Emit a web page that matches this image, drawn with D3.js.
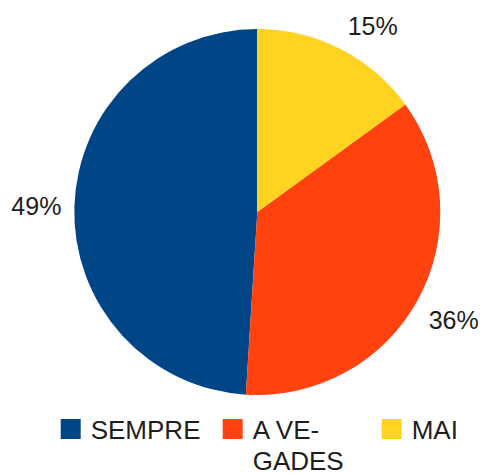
<!DOCTYPE html>
<html>
<head>
<meta charset="utf-8">
<script src="https://cdn.jsdelivr.net/npm/d3@7"></script>
<style>
  html, body { margin: 0; padding: 0; background: #fff; }
  svg { display: block; }
  text { font-family: "Liberation Sans", Arial, sans-serif; fill: #1e1e1e; }
</style>
</head>
<body>
<svg id="chart" width="483" height="473"></svg>
<script>
const categories = ["SEMPRE", "A VEGADES", "MAI"];
const values = [49, 36, 15];
const valueLabels = ["49%", "36%", "15%"];
const legendLines = [["SEMPRE"], ["A VE-", "GADES"], ["MAI"]];
const colors = ["#004586", "#ff420e", "#ffd320"];

const W = 483, H = 473;
const cx = 257.3, cy = 212, r = 183;
const svg = d3.select("#chart");

const color = d3.scaleOrdinal().domain(categories).range(colors);

const pie = d3.pie().sort(null).value(d => d.v).startAngle(0).endAngle(-2 * Math.PI);
const data = categories.map((c, i) => ({ c, v: values[i], label: valueLabels[i] }));
const arcs = pie(data);
const arc = d3.arc().innerRadius(0).outerRadius(r);

const g = svg.append("g").attr("transform", `translate(${cx},${cy})`);
g.selectAll("path").data(arcs).join("path")
  .attr("d", arc)
  .attr("fill", d => color(d.data.c));

const R = 199;
g.selectAll("text.lbl").data(arcs).join("text")
  .attr("class", "lbl")
  .style("font-size", "25px")
  .each(function(d) {
    const a = (d.startAngle + d.endAngle) / 2;
    const s = Math.sin(a), c = Math.cos(a);
    let x = R * s;
    const y = -R * c;
    if (Math.abs(s) > 0.8) x -= 3 * Math.sign(s);
    let anchor = "middle";
    if (s > 0.1) anchor = "start"; else if (s < -0.1) anchor = "end";
    let by = y + 9;
    if (c > 0.3) by = y; else if (c < -0.3) by = y + 21;
    d3.select(this).attr("x", x).attr("y", by).attr("text-anchor", anchor).text(d.data.label);
  });

// Legend
const legX = [60.7, 222.7, 381.7];
const leg = svg.append("g");
categories.forEach((c, i) => {
  leg.append("rect")
    .attr("x", legX[i]).attr("y", 419)
    .attr("width", 20).attr("height", 20)
    .attr("fill", color(c));
  const t = leg.append("text")
    .attr("x", legX[i] + 30).attr("y", 439)
    .style("font-size", "26px");
  legendLines[i].forEach((ln, j) => {
    t.append("tspan").attr("x", legX[i] + 30).attr("dy", j === 0 ? 0 : 30.5).text(ln);
  });
});
</script>
</body>
</html>
